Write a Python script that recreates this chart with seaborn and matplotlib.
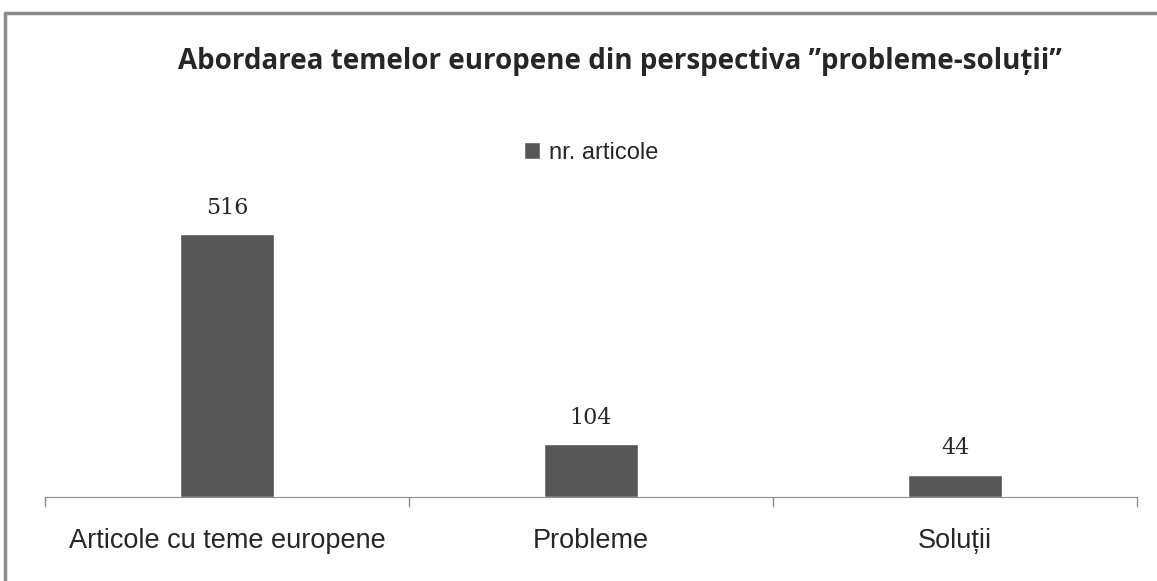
import pandas as pd
import matplotlib.pyplot as plt
from matplotlib.lines import Line2D
import seaborn as sns

# Datos
categorii = ['Articole cu teme europene', 'Probleme', 'Soluții']
nr_articole = [516, 104, 44]
serie = 'nr. articole'
titlu = 'Abordarea temelor europene din perspectiva ”probleme-soluții”'

df = pd.DataFrame({'categorie': categorii, 'valoare': nr_articole})

sns.set_style('white')
plt.rcParams['font.family'] = ['Liberation Sans', 'DejaVu Sans']

fig = plt.figure(figsize=(11.57, 5.81), dpi=100)
W, H = 1157, 581
ax = fig.add_axes([45 / W, 1 - 497 / H, (1137 - 45) / W, (497 - 190) / H])

sns.barplot(data=df, x='categorie', y='valoare', color='#565656',
            width=0.26, saturation=1, ax=ax, label=serie)
ax.set_ylim(0, 516 * 307 / 263)
ax.set_xlim(-0.5, 2.5)

for p, v in zip(ax.patches, nr_articole):
    ax.annotate(str(v), (p.get_x() + p.get_width() / 2, p.get_height()),
                xytext=(0, 11), textcoords='offset points', ha='center',
                va='bottom', fontsize=16, family='DejaVu Serif')

for s in ['top', 'right', 'left']:
    ax.spines[s].set_visible(False)
ax.spines['bottom'].set_color('#8c8c8c')
ax.set_yticks([])
ax.set_xticks([0, 1, 2])
ax.set_xticklabels(categorii, fontsize=19.5)
ax.tick_params(axis='x', length=0, pad=22)
for xb in [-0.5, 0.5, 1.5, 2.5]:
    ax.plot([xb, xb], [0, -0.03], transform=ax.get_xaxis_transform(),
            color='#8c8c8c', lw=1, clip_on=False)
ax.set_xlabel('')
ax.set_ylabel('')

ax.legend(loc='center', bbox_to_anchor=(0.5, (497 - 153) / 307), frameon=False,
          fontsize=17, handlelength=0.7, handleheight=0.7, handletextpad=0.35)

fig.text(620 / W, 1 - 62 / H, titlu, ha='center', va='center', fontsize=20,
         fontweight='bold', family='Open Sans')

# chenar
fig.add_artist(Line2D([5 / W, 1], [1 - 13 / H, 1 - 13 / H], color='#8c8c8c', lw=2.5))
fig.add_artist(Line2D([5 / W, 5 / W], [0, 1 - 13 / H], color='#8c8c8c', lw=2.5))

fig.savefig('out.png', dpi=100)
